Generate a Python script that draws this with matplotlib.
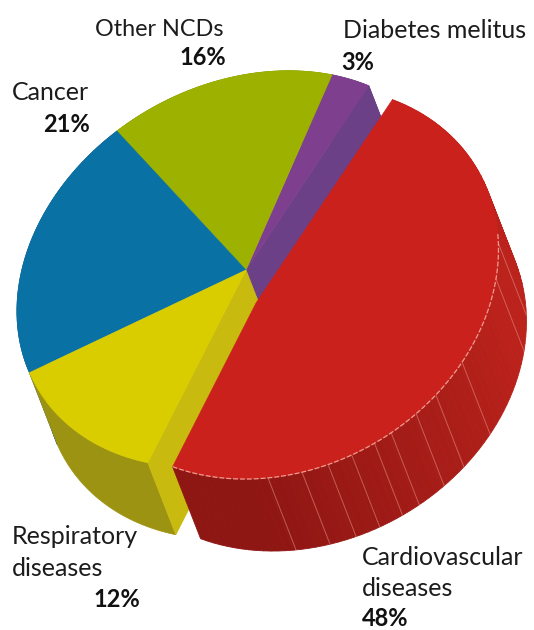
import numpy as np
import matplotlib
matplotlib.use("Agg")
import matplotlib.pyplot as plt
from matplotlib.colors import to_rgb

# ---- data (counter-clockwise, starting with the small purple slice)
categories = ["Diabetes melitus", "Other NCDs", "Cancer", "Respiratory diseases", "Cardiovascular diseases"]
values = [3, 16, 21, 12, 48]
top_colors = ["#7d3f8e", "#9db200", "#0a71a4", "#d9cd00", "#cb211c"]
side_colors = ["#6a4088", "#7f8f00", "#1a5f8e", "#9c9312", "#a01b17"]
stripe_angles = [241, 250, 257, 263.5, 270, 275, 283, 290, 301, 326, 336.5]

# ---- projected-disc geometry
start = 31.0
tilt = np.radians(30)
depth = np.array([28.0, 72.0])
main_c, main_a, main_b, main_apex = (241, 269), 236, 184, np.array([246.0, 270.0])
red_c, red_a, red_b, red_apex = (282, 283), 226, 185, np.array([256.0, 303.0])
red_span_factor = 1.04
edge_shift = np.array([0, 0, 0, 0, 3.0, 0])  # perspective correction of the slice edges


def rim(phi_deg, c, a, b):
    p = np.radians(np.atleast_1d(phi_deg))
    xr = a * np.cos(p)
    yr = b * np.sin(p)
    x = c[0] + xr * np.cos(tilt) - yr * np.sin(tilt)
    y = c[1] - (xr * np.sin(tilt) + yr * np.cos(tilt))
    return np.column_stack([x, y])


base_edges = start + np.concatenate([[0], np.cumsum(values)]) * 3.6
edges = base_edges + edge_shift

fig = plt.figure(figsize=(5.34, 6.30), dpi=100)
ax = fig.add_axes([0, 0, 1, 1])
ax.set_xlim(0, 534)
ax.set_ylim(630, 0)
ax.axis("off")

# outer side walls of the main disc
for i in range(4):
    phis = np.linspace(edges[i], edges[i + 1], 80)
    r = rim(phis, main_c, main_a, main_b)
    poly = np.vstack([r, (r + depth)[::-1]])
    ax.fill(poly[:, 0], poly[:, 1], color=side_colors[i], lw=0.5, zorder=1 + i * 0.1)

# cut faces next to the exploded slice
for phi, col in [(edges[0], "#6c4086"), (edges[4], "#c9ba10")]:
    p = rim(phi, main_c, main_a, main_b)[0]
    poly = np.array([main_apex, p, p + depth, main_apex + depth])
    ax.fill(poly[:, 0], poly[:, 1], color=col, lw=0.5, zorder=2)

# top faces of the main disc
for i in range(4):
    r = rim(np.linspace(edges[i], edges[i + 1], 80), main_c, main_a, main_b)
    poly = np.vstack([main_apex, r])
    ax.fill(poly[:, 0], poly[:, 1], color=top_colors[i], lw=0.4, zorder=3)

# exploded slice
mid = (base_edges[4] + base_edges[5]) / 2
half = (base_edges[5] - base_edges[4]) / 2 * red_span_factor
r0, r1 = mid - half - 0.4, mid + half - 0.4
n = 90
phis = np.linspace(r0, r1, n + 1)
dark, light = np.array(to_rgb("#8e1613")), np.array(to_rgb("#bb221b"))
for k in range(n):
    seg = rim(phis[k:k + 2], red_c, red_a, red_b)
    poly = np.vstack([seg, (seg + depth)[::-1]])
    t = np.clip((phis[k] - 235) / 85, 0, 1)
    ax.fill(poly[:, 0], poly[:, 1], color=dark + (light - dark) * t, lw=0.6, zorder=4)
for phi in stripe_angles:
    p = rim(phi, red_c, red_a, red_b)[0]
    ax.plot([p[0], p[0] + depth[0]], [p[1], p[1] + depth[1]], color="#e08a80", lw=0.7, alpha=0.6, zorder=4.5)
r = rim(np.linspace(r0, r1, 160), red_c, red_a, red_b)
poly = np.vstack([red_apex, r])
ax.fill(poly[:, 0], poly[:, 1], color=top_colors[4], lw=0.4, zorder=5)
rr = rim(np.linspace(r0, r0 + 125, 120), red_c, red_a, red_b)
ax.plot(rr[:, 0], rr[:, 1], color="#ee9d92", lw=0.9, ls=(0, (4, 1.5)), zorder=6)

# ---- labels
reg = ["Lato", "DejaVu Sans"]
bold = ["Liberation Sans Narrow", "Lato", "DejaVu Sans"]
kw = dict(color="#1c1c1c", family=reg, va="baseline")
bk = dict(color="#111111", family=bold, fontsize=17, fontweight="bold", va="baseline")

ax.text(95, 36, "Other NCDs", fontsize=16.8, **kw)
ax.text(203, 65, "16%", ha="center", **bk)
ax.text(343, 38, "Diabetes melitus", fontsize=18, **kw)
ax.text(358, 70, "3%", ha="center", **bk)
ax.text(12, 100, "Cancer", fontsize=18, **kw)
ax.text(67, 132, "21%", ha="center", **bk)
ax.text(12, 544, "Respiratory", fontsize=18, **kw)
ax.text(12, 576, "diseases", fontsize=18, **kw)
ax.text(117, 607, "12%", ha="center", **bk)
ax.text(362, 565, "Cardiovascular", fontsize=18, **kw)
ax.text(362, 596, "diseases", fontsize=18, **kw)
ax.text(362, 626, "48%", **bk)

fig.savefig("out.png", dpi=100, facecolor="white")
